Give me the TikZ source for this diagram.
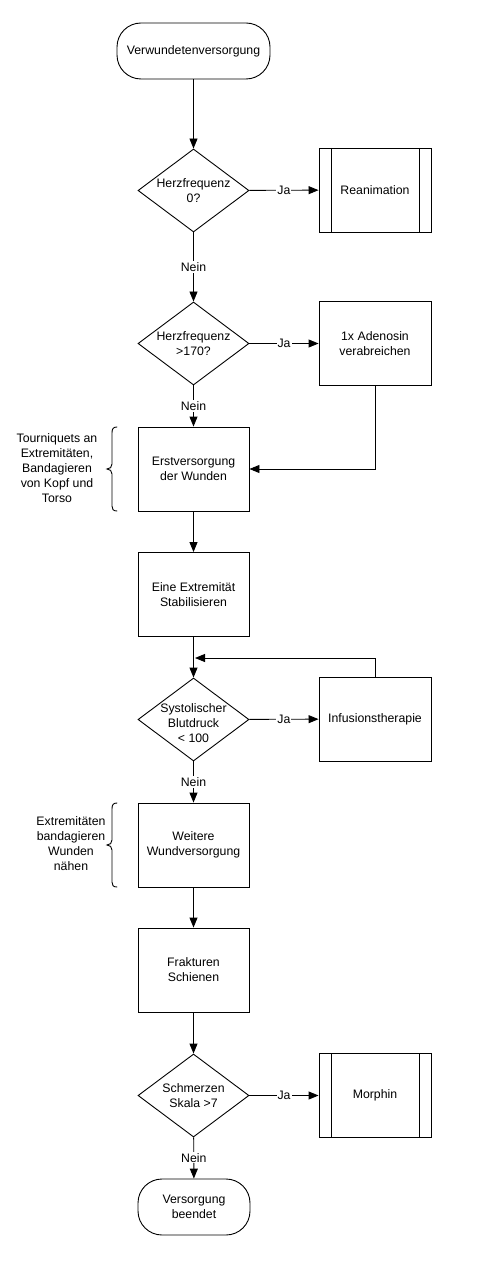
\documentclass[tikz,border=0pt]{standalone}
\usepackage{fontspec}
\setmainfont{Liberation Sans}
\usetikzlibrary{shapes.geometric,arrows.meta}
\begin{document}
\begin{tikzpicture}[x=1pt,y=-1pt,
  font=\fontsize{12.3}{15}\selectfont,
  conn/.style={line width=0.9pt,-{Triangle[length=10pt,width=8pt]}},
  terminal/.style={draw,line width=0.9pt,rounded corners=24pt,minimum height=56pt,align=center,inner sep=0pt},
  decision/.style={diamond,draw,line width=0.9pt,minimum width=111pt,minimum height=83pt,inner sep=0pt},
  procbox/.style={draw,rectangle,line width=0.9pt,minimum width=111pt,minimum height=84pt,align=center,inner sep=0pt},
  subbox/.style={procbox,minimum width=112pt,
    path picture={
      \draw[line width=0.9pt] ([xshift=12pt]path picture bounding box.north west) -- ([xshift=12pt]path picture bounding box.south west);
      \draw[line width=0.9pt] ([xshift=-12pt]path picture bounding box.north east) -- ([xshift=-12pt]path picture bounding box.south east);}},
  lbl/.style={fill=white,inner sep=1pt},
  note/.style={align=center,inner sep=0pt},
  bracepath/.style={line width=0.9pt,line cap=round}
]
\useasboundingbox[fill=white] (0,0) rectangle (481,1273);

\node[terminal,minimum width=153pt] (start) at (193.5,51) {Verwundetenversorgung};
\node[decision,label={[align=center]center:Herzfrequenz\\0?}] (d1) at (193.5,190.5) {};
\node[subbox] (rea) at (375,190) {Reanimation};
\node[decision,label={[align=center]center:Herzfrequenz\\>170?}] (d2) at (193.5,343.5) {};
\node[procbox,minimum width=112pt] (ade) at (375,343.5) {1x Adenosin\\verabreichen};
\node[procbox] (erst) at (193.5,469) {Erstversorgung\\der Wunden};
\node[procbox] (eine) at (193.5,594.5) {Eine Extremität\\Stabilisieren};
\node[decision,label={[align=center,yshift=-4pt]center:Systolischer\\Blutdruck\\< 100}] (d3) at (193.5,719.5) {};
\node[procbox,minimum width=112pt] (inf) at (375,719) {Infusionstherapie};
\node[procbox] (weit) at (193.5,845) {Weitere\\Wundversorgung};
\node[procbox] (frak) at (193.5,970) {Frakturen\\Schienen};
\node[decision,label={[align=center]center:Schmerzen\\Skala >7}] (d4) at (193.5,1095.5) {};
\node[subbox] (mor) at (375,1095.5) {Morphin};
\node[terminal,minimum width=112pt] (end) at (194,1207) {Versorgung\\beendet};

\node[note] (n1) at (57,468) {Tourniquets an\\Extremitäten,\\Bandagieren\\von Kopf und\\Torso};
\node[note] (n2) at (71,843.5) {Extremitäten\\bandagieren\\Wunden\\nähen};

\coordinate (m) at (195,658);

\draw[conn] (start) -- (d1);
\draw[conn] (d1) -- node[lbl]{Ja} (rea);
\draw[conn] (d1) -- node[lbl]{Nein} (d2);
\draw[conn] (d2) -- node[lbl]{Ja} (ade);
\draw[conn] (d2) -- node[lbl]{Nein} (erst);
\draw[conn] (ade.south) |- (erst.east);
\draw[conn] (erst) -- (eine);
\draw[conn] (eine) -- (d3);
\draw[conn] (inf.north) |- (m);
\draw[conn] (d3) -- node[lbl]{Ja} (inf);
\draw[conn] (d3) -- node[lbl]{Nein} (weit);
\draw[conn] (weit) -- (frak);
\draw[conn] (frak) -- (d4);
\draw[conn] (d4) -- node[lbl]{Ja} (mor);
\draw[conn] (d4) -- node[lbl]{Nein} (end);

% braces
\draw[bracepath] (117,427) .. controls (113,427) and (112,429) .. (112,433) -- (112,464)
  .. controls (112,467) and (110,469) .. (107,469)
  .. controls (110,469) and (112,471) .. (112,474) -- (112,506)
  .. controls (112,509) and (113,511) .. (117,511);
\draw[bracepath] (117,803) .. controls (113,803) and (112,805) .. (112,809) -- (112,840)
  .. controls (112,843) and (110,845) .. (107,845)
  .. controls (110,845) and (112,847) .. (112,850) -- (112,882)
  .. controls (112,885) and (113,887) .. (117,887);
\end{tikzpicture}
\end{document}
